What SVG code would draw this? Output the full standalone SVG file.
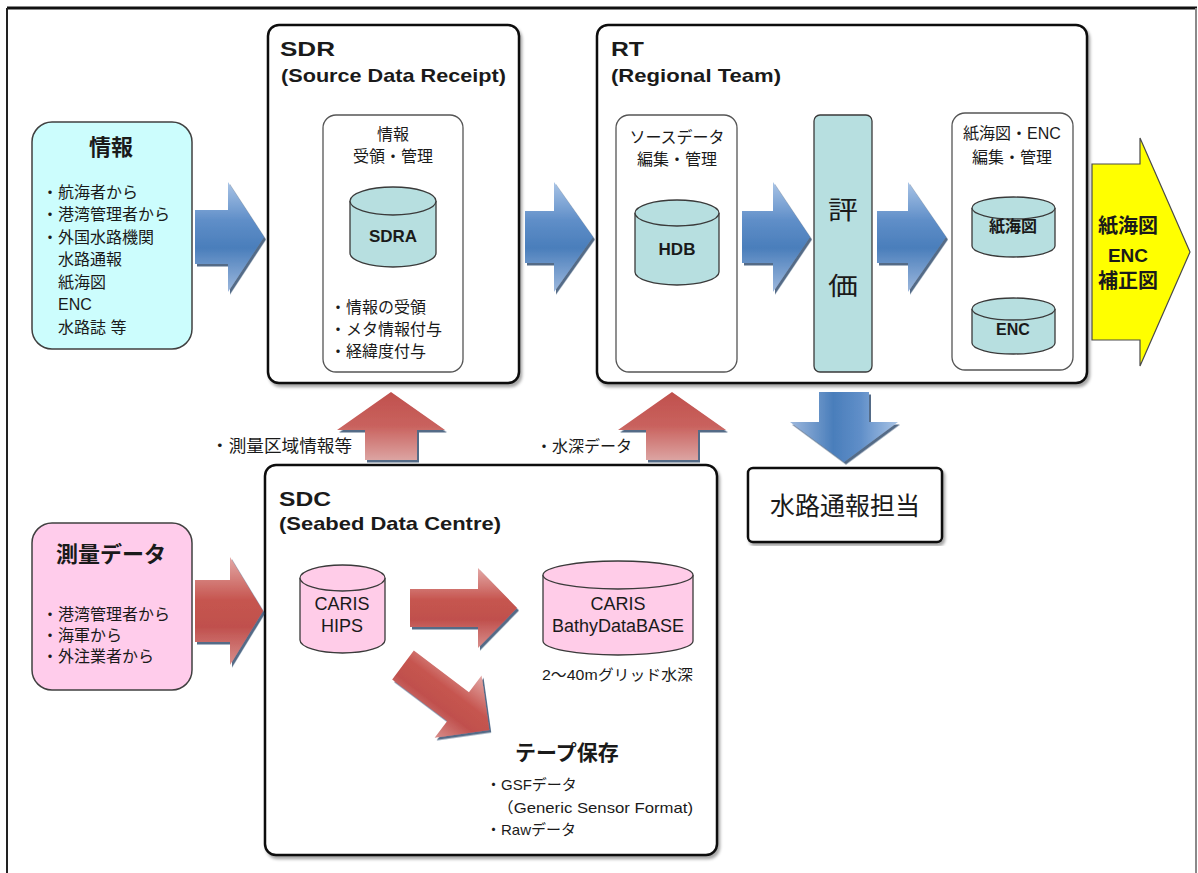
<svg xmlns="http://www.w3.org/2000/svg" width="1198" height="873" viewBox="0 0 1198 873">
  <defs>
    <style>
      .jp { font-family: "Liberation Sans", "Noto Sans CJK JP", sans-serif; fill: #1a1a1a; }
      .t16 { font-size: 16px; }
      .t15 { font-size: 15px; }
      .b { font-weight: bold; }
      .mid { text-anchor: middle; }
      .frame { fill: #ffffff; stroke: #111111; stroke-width: 2.5; }
      .inner { fill: #ffffff; stroke: #555555; stroke-width: 1.3; }
      .cylT { fill: #b7dfe0; stroke: #3a3a3a; stroke-width: 1.3; }
      .cylP { fill: #ffcce8; stroke: #3a3a3a; stroke-width: 1.3; }
    </style>
    <linearGradient id="gBlue" x1="0" y1="0" x2="0" y2="1">
      <stop offset="0" stop-color="#a9c4e6"/>
      <stop offset="0.35" stop-color="#5f8ec8"/>
      <stop offset="0.6" stop-color="#4a7ebb"/>
      <stop offset="1" stop-color="#9db8dd"/>
    </linearGradient>
    <linearGradient id="gRed" x1="0" y1="0" x2="0" y2="1">
      <stop offset="0" stop-color="#e3a9a7"/>
      <stop offset="0.4" stop-color="#c6554f"/>
      <stop offset="0.65" stop-color="#c0504d"/>
      <stop offset="1" stop-color="#d88f8c"/>
    </linearGradient>
    <linearGradient id="gRedUp" x1="0" y1="0" x2="1" y2="0">
      <stop offset="0" stop-color="#dca4a2"/>
      <stop offset="0.5" stop-color="#c9625e"/>
      <stop offset="1" stop-color="#c0504d"/>
    </linearGradient>
    <filter id="arShadow" x="-10%" y="-10%" width="130%" height="130%">
      <feDropShadow dx="2" dy="2.5" stdDeviation="0.6" flood-color="#1f3a5f" flood-opacity="0.75"/>
    </filter>
    <filter id="boxShadow" x="-5%" y="-5%" width="110%" height="110%">
      <feDropShadow dx="2" dy="3" stdDeviation="1.5" flood-color="#000000" flood-opacity="0.35"/>
    </filter>
  </defs>

  <rect x="0" y="0" width="1198" height="873" fill="#ffffff"/>

  <!-- page frame -->
  <g id="page-frame">
    <line x1="7" y1="8" x2="1197" y2="8" stroke="#111111" stroke-width="3"/>
    <line x1="7" y1="8" x2="7" y2="873" stroke="#222222" stroke-width="2"/>
    <line x1="1196" y1="8" x2="1196" y2="873" stroke="#8a8a8a" stroke-width="2"/>
  </g>

  <!-- incoming information -->
  <g id="node-info">
    <rect x="32" y="122" width="160" height="227" rx="20" fill="#ccfdfd" stroke="#404040" stroke-width="1.5"/>
    <text class="jp b mid" x="111" y="155" font-size="22">情報</text>
    <text class="jp t16" x="42" y="198">・航海者から</text>
    <text class="jp t16" x="42" y="220">・港湾管理者から</text>
    <text class="jp t16" x="42" y="243">・外国水路機関</text>
    <text class="jp t16" x="58" y="265">水路通報</text>
    <text class="jp t16" x="58" y="288">紙海図</text>
    <text class="jp t16" x="58" y="310">ENC</text>
    <text class="jp t16" x="58" y="333">水路誌 等</text>
  </g>

  <!-- survey data -->
  <g id="node-survey">
    <rect x="32" y="523" width="160" height="167" rx="20" fill="#ffcceb" stroke="#404040" stroke-width="1.5"/>
    <text class="jp b mid" x="111" y="562" font-size="22">測量データ</text>
    <text class="jp t16" x="42" y="620">・港湾管理者から</text>
    <text class="jp t16" x="42" y="641">・海軍から</text>
    <text class="jp t16" x="42" y="662">・外注業者から</text>
  </g>

  <!-- SDR -->
  <g id="node-sdr">
    <rect class="frame" x="268" y="25" width="251" height="358" rx="11" filter="url(#boxShadow)"/>
    <text class="jp b" x="280" y="56" font-size="20" textLength="55" lengthAdjust="spacingAndGlyphs">SDR</text>
    <text class="jp b" x="281" y="82" font-size="19" textLength="225" lengthAdjust="spacingAndGlyphs">(Source Data Receipt)</text>
    <rect class="inner" x="323" y="115" width="140" height="257" rx="13"/>
    <text class="jp t16 mid" x="393" y="140">情報</text>
    <text class="jp t16 mid" x="393" y="162">受領・管理</text>
    <g id="cyl-sdra">
      <path class="cylT" d="M350,201 V253 A43,14 0 0 0 436,253 V201"/>
      <ellipse class="cylT" cx="393" cy="201" rx="43" ry="14"/>
      <text class="jp b mid" x="393" y="242" font-size="17">SDRA</text>
    </g>
    <text class="jp t16" x="330" y="313">・情報の受領</text>
    <text class="jp t16" x="330" y="335">・メタ情報付与</text>
    <text class="jp t16" x="330" y="357">・経緯度付与</text>
  </g>

  <!-- RT -->
  <g id="node-rt">
    <rect class="frame" x="597" y="25" width="490" height="358" rx="11" filter="url(#boxShadow)"/>
    <text class="jp b" x="611" y="56" font-size="20" textLength="33" lengthAdjust="spacingAndGlyphs">RT</text>
    <text class="jp b" x="611" y="82" font-size="19" textLength="170" lengthAdjust="spacingAndGlyphs">(Regional Team)</text>
    <rect class="inner" x="616" y="115" width="121" height="257" rx="13"/>
    <text class="jp t16 mid" x="677" y="143">ソースデータ</text>
    <text class="jp t16 mid" x="677" y="165">編集・管理</text>
    <g id="cyl-hdb">
      <path class="cylT" d="M635,213 V272 A42,13 0 0 0 719,272 V213"/>
      <ellipse class="cylT" cx="677" cy="213" rx="42" ry="13"/>
      <text class="jp b mid" x="677" y="255" font-size="17">HDB</text>
    </g>
    <g id="node-eval">
      <rect x="814" y="115" width="58" height="257" rx="6" fill="#b7dfe0" stroke="#3a3a3a" stroke-width="1.3"/>
      <text class="jp" x="828" y="219" font-size="25" textLength="30" lengthAdjust="spacingAndGlyphs">評</text>
      <text class="jp" x="828" y="295" font-size="25" textLength="30" lengthAdjust="spacingAndGlyphs">価</text>
    </g>
    <rect class="inner" x="952" y="113" width="121" height="257" rx="13"/>
    <text class="jp t16 mid" x="1012" y="139">紙海図・ENC</text>
    <text class="jp t16 mid" x="1012" y="163">編集・管理</text>
    <g id="cyl-chart">
      <path class="cylT" d="M972,208 V246 A41.5,11 0 0 0 1055,246 V208"/>
      <ellipse class="cylT" cx="1013.5" cy="208" rx="41.5" ry="11"/>
      <text class="jp b mid" x="1013" y="232" font-size="16">紙海図</text>
    </g>
    <g id="cyl-enc">
      <path class="cylT" d="M972,309 V343 A41.5,11 0 0 0 1055,343 V309"/>
      <ellipse class="cylT" cx="1013.5" cy="309" rx="41.5" ry="11"/>
      <text class="jp b mid" x="1013" y="335" font-size="16">ENC</text>
    </g>
  </g>

  <!-- notices desk -->
  <g id="node-notices">
    <rect class="frame" x="748" y="468" width="194" height="74" rx="5" stroke-width="2" filter="url(#boxShadow)"/>
    <text class="jp mid" x="845" y="515" font-size="25">水路通報担当</text>
  </g>

  <!-- SDC -->
  <g id="node-sdc">
    <rect class="frame" x="265" y="465" width="452" height="390" rx="11" filter="url(#boxShadow)"/>
    <text class="jp b" x="279" y="506" font-size="20" textLength="52" lengthAdjust="spacingAndGlyphs">SDC</text>
    <text class="jp b" x="279" y="530" font-size="19" textLength="222" lengthAdjust="spacingAndGlyphs">(Seabed Data Centre)</text>
    <g id="cyl-hips">
      <path class="cylP" d="M300,578 V640 A42.5,13 0 0 0 385,640 V578"/>
      <ellipse class="cylP" cx="342.5" cy="578" rx="42.5" ry="13"/>
      <text class="jp mid" x="342" y="610" font-size="18">CARIS</text>
      <text class="jp mid" x="342" y="632" font-size="18">HIPS</text>
    </g>
    <g id="cyl-bdb">
      <path class="cylP" d="M543,575 V641 A75,14 0 0 0 693,641 V575"/>
      <ellipse class="cylP" cx="618" cy="575" rx="75" ry="14"/>
      <text class="jp mid" x="618" y="610" font-size="18">CARIS</text>
      <text class="jp mid" x="618" y="632" font-size="18">BathyDataBASE</text>
    </g>
    <text class="jp t15" x="542" y="680" textLength="151" lengthAdjust="spacingAndGlyphs">2〜40mグリッド水深</text>
    <text class="jp b" x="515" y="760" font-size="21">テープ保存</text>
    <text class="jp t15" x="486" y="790">・GSFデータ</text>
    <text class="jp t15" x="497" y="813" textLength="196" lengthAdjust="spacingAndGlyphs">（Generic Sensor Format)</text>
    <text class="jp t15" x="486" y="835">・Rawデータ</text>
  </g>

  <!-- output: corrected charts -->
  <g id="node-output">
    <path d="M1092,164 H1140 V138 L1190,252 L1140,366 V340 H1092 Z" fill="#ffff00" stroke="#4a4a4a" stroke-width="1.2"/>
    <text class="jp b mid" x="1128" y="233" font-size="20">紙海図</text>
    <text class="jp b mid" x="1128" y="262" font-size="19">ENC</text>
    <text class="jp b mid" x="1128" y="288" font-size="20">補正図</text>
  </g>

  <!-- connectors (block arrows) -->
  <g id="connectors">
    <g filter="url(#arShadow)">
      <path transform="translate(195,237)" d="M0,-27 H33 V-55 L69,0 L33,55 V27 H0 Z" fill="url(#gBlue)"/>
    </g>
    <g filter="url(#arShadow)">
      <path transform="translate(525,237)" d="M0,-26 H29 V-55 L68,0 L29,55 V26 H0 Z" fill="url(#gBlue)"/>
    </g>
    <g filter="url(#arShadow)">
      <path transform="translate(742,237)" d="M0,-26 H31 V-55 L68,0 L31,55 V26 H0 Z" fill="url(#gBlue)"/>
    </g>
    <g filter="url(#arShadow)">
      <path transform="translate(877,237)" d="M0,-26 H31 V-55 L69,0 L31,55 V26 H0 Z" fill="url(#gBlue)"/>
    </g>
    <g filter="url(#arShadow)">
      <path transform="translate(844,392) rotate(90)" d="M0,-25 H30 V-54 L70,0 L30,54 V25 H0 Z" fill="url(#gBlue)"/>
    </g>
    <g filter="url(#arShadow)">
      <path transform="translate(391,460) rotate(-90)" d="M0,-26 H30 V-54 L68,0 L30,54 V26 H0 Z" fill="url(#gRedUp)"/>
    </g>
    <g filter="url(#arShadow)">
      <path transform="translate(672,460) rotate(-90)" d="M0,-26 H30 V-54 L68,0 L30,54 V26 H0 Z" fill="url(#gRedUp)"/>
    </g>
    <g filter="url(#arShadow)">
      <path transform="translate(195,611)" d="M0,-31 H35 V-54 L68,0 L35,54 V31 H0 Z" fill="url(#gRed)"/>
    </g>
    <g filter="url(#arShadow)">
      <path transform="translate(410,608)" d="M0,-19 H68 V-40 L107,0 L68,40 V19 H0 Z" fill="url(#gRed)"/>
    </g>
    <g filter="url(#arShadow)">
      <path transform="translate(403,665) rotate(37)" d="M0,-18 H69 V-39 L108,0 L69,39 V18 H0 Z" fill="url(#gRed)"/>
    </g>
    <text class="jp" x="211" y="452" font-size="16.5" textLength="141" lengthAdjust="spacingAndGlyphs">・測量区域情報等</text>
    <text class="jp t16" x="536" y="452">・水深データ</text>
  </g>
</svg>
